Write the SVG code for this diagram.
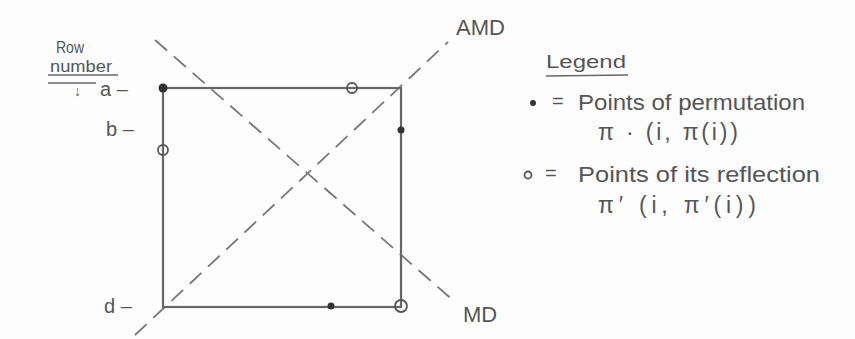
<svg xmlns="http://www.w3.org/2000/svg" width="855" height="339" viewBox="0 0 855 339">
<style>
.t{font-family:"Liberation Sans",Arial,sans-serif;fill:#555;}
.box{stroke:#666;stroke-width:2.2;fill:none;}
.dash{stroke:#777;stroke-width:1.8;fill:none;stroke-dasharray:16 9;}
.ul{stroke:#666;stroke-width:1.6;}
.fill{fill:#333;}
.open{fill:none;stroke:#555;stroke-width:1.8;}
</style>
<rect width="855" height="339" fill="#fdfdfd"/>
<g id="connectors">
<line class="dash" x1="135" y1="335" x2="448" y2="42"/>
<line class="dash" x1="155" y1="40" x2="455" y2="302"/>
</g>
<g id="square">
<rect class="box" x="163" y="88" width="238" height="219"/>
</g>
<g id="points">
<circle class="fill" cx="163" cy="88" r="4.5"/>
<circle class="open" cx="352" cy="88" r="5"/>
<circle class="fill" cx="401" cy="130" r="3.5"/>
<circle class="open" cx="163" cy="150" r="5"/>
<circle class="fill" cx="331" cy="306" r="3.5"/>
<circle class="open" cx="401" cy="306" r="6"/>
</g>
<g id="row-labels">
<text class="t" x="56" y="53" font-size="16" textLength="28" lengthAdjust="spacingAndGlyphs">Row</text>
<text class="t" x="50" y="72" font-size="16" textLength="62" lengthAdjust="spacingAndGlyphs">number</text>
<line class="ul" x1="48" y1="75" x2="118" y2="75"/>
<line class="ul" x1="48" y1="83" x2="96" y2="83"/>
<text class="t" x="74" y="96" font-size="14">↓</text>
<text class="t" x="100" y="96" font-size="20">a –</text>
<text class="t" x="106" y="136" font-size="20">b –</text>
<text class="t" x="104" y="313" font-size="20">d –</text>
</g>
<g id="AMD"><text class="t" x="456" y="35" font-size="22">AMD</text></g>
<g id="MD"><text class="t" x="463" y="322" font-size="22">MD</text></g>
<g id="legend">
<text class="t" x="546" y="68" font-size="18" textLength="80" lengthAdjust="spacingAndGlyphs">Legend</text>
<line class="ul" x1="546" y1="76" x2="628" y2="75"/>
<circle class="fill" cx="533" cy="103" r="3"/>
<text class="t" x="552" y="108" font-size="20">=</text>
<text class="t" x="578" y="110" font-size="22" textLength="227" lengthAdjust="spacingAndGlyphs">Points of permutation</text>
<text class="t" x="598" y="140" font-size="23" textLength="140" lengthAdjust="spacing">π · (i, π(i))</text>
<circle class="open" cx="528" cy="175" r="3.5"/>
<text class="t" x="545" y="180" font-size="20">=</text>
<text class="t" x="578" y="182" font-size="22" textLength="242" lengthAdjust="spacingAndGlyphs">Points of its reflection</text>
<text class="t" x="598" y="213" font-size="23" textLength="158" lengthAdjust="spacing">π′ (i, π′(i))</text>
</g>
</svg>
